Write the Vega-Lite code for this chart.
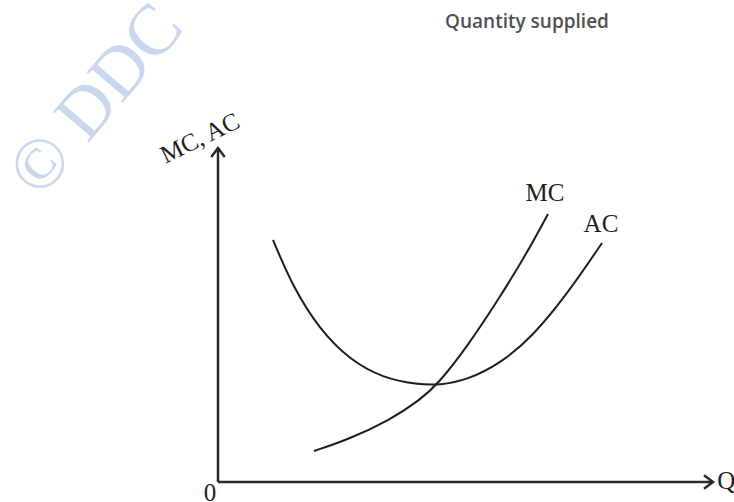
{
  "$schema": "https://vega.github.io/schema/vega-lite/v6.json",
  "width": 495,
  "height": 334,
  "autosize": {"type": "none"},
  "padding": {"left": 218, "top": 148, "right": 21, "bottom": 20},
  "background": "white",
  "config": {"view": {"stroke": null}},
  "datasets": {
    "curves": [
      {"series": "AC", "q": 1.111, "c": 7.246},
      {"series": "AC", "q": 1.515, "c": 5.83},
      {"series": "AC", "q": 2.061, "c": 4.551},
      {"series": "AC", "q": 2.667, "c": 3.653},
      {"series": "AC", "q": 3.333, "c": 3.114},
      {"series": "AC", "q": 4.02, "c": 2.92},
      {"series": "AC", "q": 4.485, "c": 2.9},
      {"series": "AC", "q": 5.03, "c": 3.054},
      {"series": "AC", "q": 5.697, "c": 3.54},
      {"series": "AC", "q": 6.364, "c": 4.37},
      {"series": "AC", "q": 7.051, "c": 5.62},
      {"series": "AC", "q": 7.758, "c": 7.156},
      {"series": "MC", "q": 1.939, "c": 0.928},
      {"series": "MC", "q": 2.606, "c": 1.257},
      {"series": "MC", "q": 3.475, "c": 1.856},
      {"series": "MC", "q": 4.081, "c": 2.455},
      {"series": "MC", "q": 4.444, "c": 2.934},
      {"series": "MC", "q": 5.03, "c": 4.042},
      {"series": "MC", "q": 5.697, "c": 5.539},
      {"series": "MC", "q": 6.242, "c": 6.856},
      {"series": "MC", "q": 6.667, "c": 8.024}
    ],
    "axes": [
      {"q": 0, "c": 0, "q2": 10, "c2": 0},
      {"q": 0, "c": 0, "q2": 0, "c2": 10}
    ],
    "labels": [
      {"label": "MC", "q": 6.606, "c": 8.653},
      {"label": "AC", "q": 7.737, "c": 7.725},
      {"label": "Q", "q": 10.27, "c": 0.03},
      {"label": "0", "q": -0.162, "c": -0.33}
    ],
    "ytitle": [{"label": "MC, AC", "q": -0.364, "c": 10.3}],
    "watermark": [{"label": "© DDC", "q": -2.46, "c": 11.44}],
    "caption": [{"label": "Quantity supplied", "q": 6.242, "c": 13.772}]
  },
  "encoding": {
    "x": {"field": "q", "type": "quantitative", "scale": {"domain": [0, 10], "nice": false, "zero": false}, "axis": null},
    "y": {"field": "c", "type": "quantitative", "scale": {"domain": [0, 10], "nice": false, "zero": false}, "axis": null}
  },
  "layer": [
    {
      "data": {"name": "watermark"},
      "mark": {"type": "text", "angle": -49.5, "font": "Liberation Serif", "fontSize": 72, "color": "#c9d7ef", "align": "center", "baseline": "middle"},
      "encoding": {"text": {"field": "label"}}
    },
    {
      "data": {"name": "caption"},
      "mark": {"type": "text", "font": "Open Sans", "fontSize": 19, "fontWeight": 600, "color": "#505050", "align": "center", "baseline": "middle"},
      "encoding": {"text": {"field": "label"}}
    },
    {
      "data": {"name": "curves"},
      "mark": {"type": "line", "interpolate": "basis", "strokeWidth": 2, "color": "#1e1e1e"},
      "encoding": {"detail": {"field": "series"}}
    },
    {
      "data": {"name": "axes"},
      "mark": {"type": "rule", "strokeWidth": 2.5, "color": "#2a2a2a"},
      "encoding": {
        "x2": {"field": "q2"},
        "y2": {"field": "c2"}
      }
    },
    {
      "data": {"values": [{"q": 0, "c": 10}]},
      "mark": {"type": "point", "shape": "M-0.75,1L0,0L0.75,1", "size": 324, "filled": false, "stroke": "#2a2a2a", "strokeWidth": 2.5, "opacity": 1},
      "encoding": {}
    },
    {
      "data": {"values": [{"q": 10, "c": 0}]},
      "mark": {"type": "point", "shape": "M-1,-0.75L0,0L-1,0.75", "size": 324, "filled": false, "stroke": "#2a2a2a", "strokeWidth": 2.5, "opacity": 1},
      "encoding": {}
    },
    {
      "data": {"name": "labels"},
      "mark": {"type": "text", "font": "Liberation Serif", "fontSize": 25, "color": "#1e1e1e", "align": "center", "baseline": "middle"},
      "encoding": {"text": {"field": "label"}}
    },
    {
      "data": {"name": "ytitle"},
      "mark": {"type": "text", "angle": -26, "font": "Liberation Serif", "fontSize": 25, "color": "#1e1e1e", "align": "center", "baseline": "middle"},
      "encoding": {"text": {"field": "label"}}
    }
  ]
}
